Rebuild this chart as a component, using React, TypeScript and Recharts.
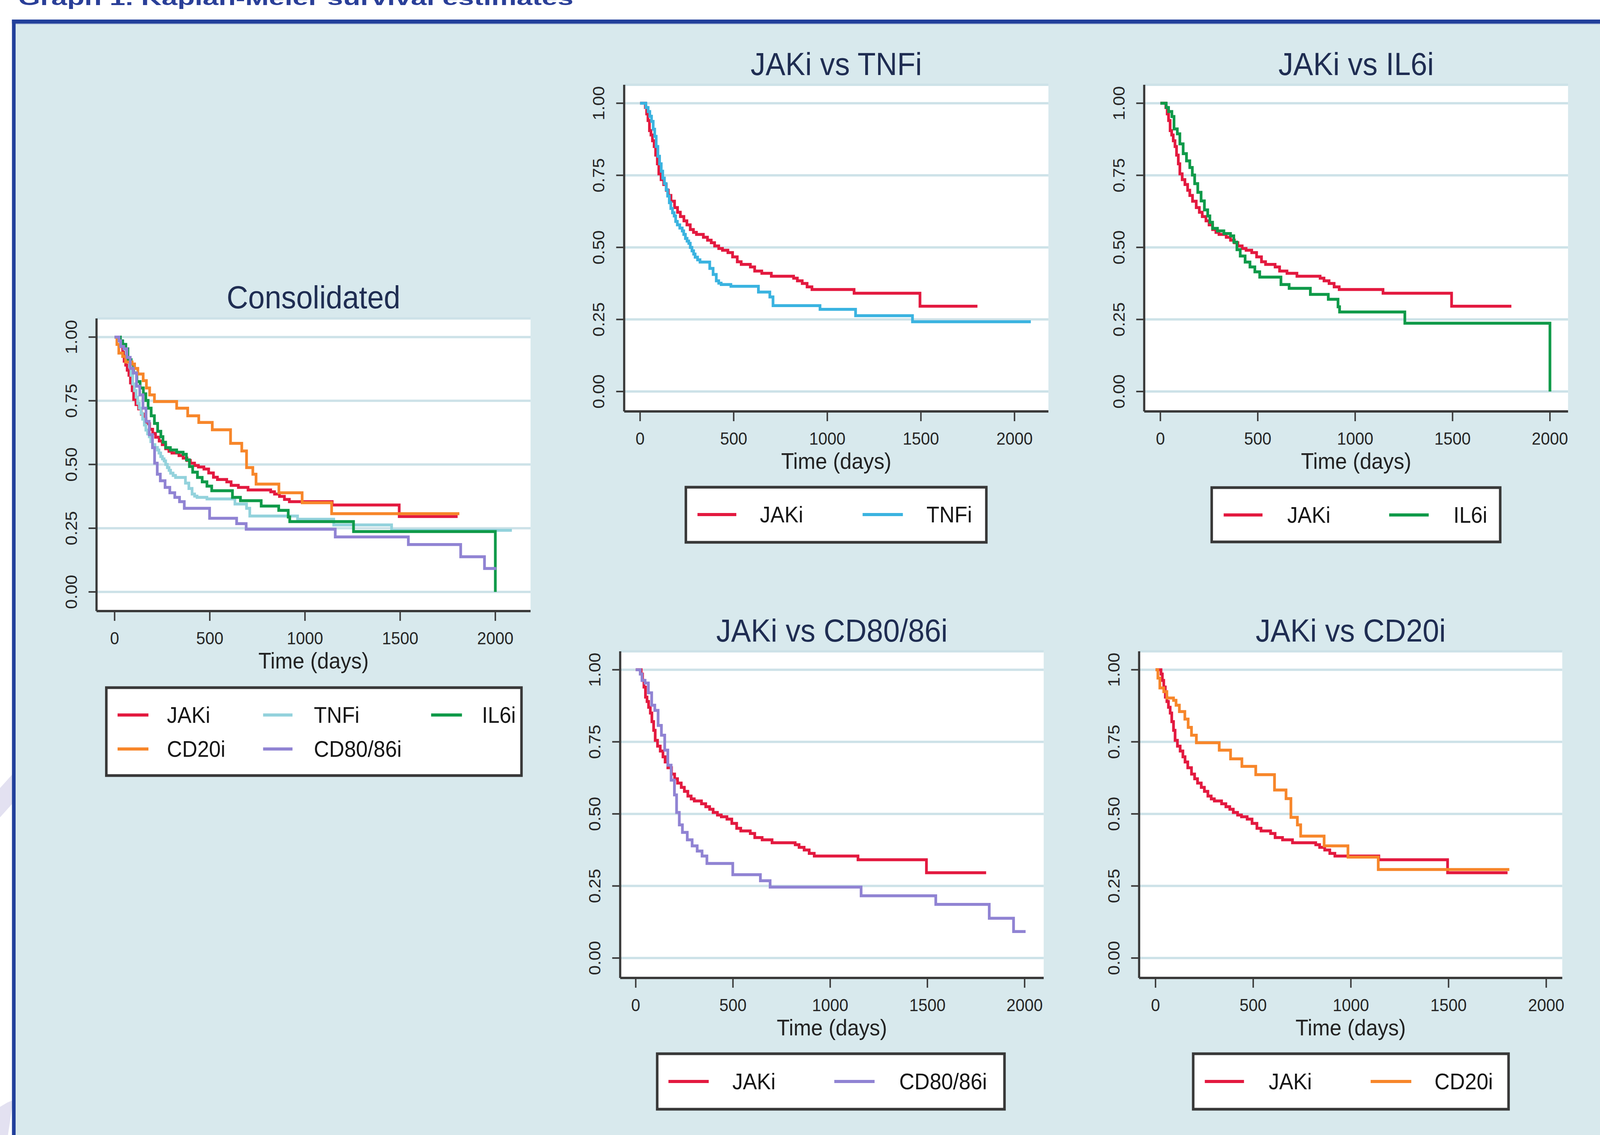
import React from 'react';
import { LineChart, Line, XAxis, YAxis, CartesianGrid } from 'recharts';

type Pt = [number, number];

// ---- Kaplan-Meier step values (time in days, survival probability) ----
const JAKI: Pt[] = [
  [0, 1], [28, 0.985], [35, 0.963], [42, 0.94], [50, 0.905], [58, 0.89], [66, 0.87], [75, 0.85],
  [83, 0.82], [92, 0.79], [100, 0.755], [112, 0.735], [126, 0.718], [140, 0.698], [151, 0.68],
  [165, 0.66], [184, 0.638], [200, 0.622], [215, 0.607], [234, 0.592], [250, 0.578], [268, 0.562],
  [285, 0.552], [301, 0.545], [338, 0.535], [360, 0.525], [380, 0.516], [398, 0.505], [420, 0.496],
  [440, 0.49], [469, 0.482], [494, 0.467], [519, 0.45], [540, 0.441], [589, 0.432], [612, 0.418],
  [650, 0.41], [701, 0.4], [820, 0.393], [840, 0.384], [866, 0.375], [892, 0.363], [918, 0.354],
  [1143, 0.341], [1495, 0.296], [1802, 0.296],
];

const TNFI: Pt[] = [
  [0, 1], [31, 0.985], [43, 0.971], [52, 0.955], [61, 0.937], [70, 0.91], [78, 0.885], [86, 0.85],
  [95, 0.816], [104, 0.79], [113, 0.764], [121, 0.74], [130, 0.721], [139, 0.7], [147, 0.678],
  [156, 0.655], [164, 0.635], [173, 0.62], [182, 0.609], [190, 0.59], [199, 0.578], [212, 0.567],
  [225, 0.557], [233, 0.545], [242, 0.531], [251, 0.522], [260, 0.514], [268, 0.5], [277, 0.488],
  [286, 0.477], [294, 0.466], [307, 0.457], [320, 0.449], [372, 0.427], [390, 0.406], [407, 0.384],
  [420, 0.376], [433, 0.371], [485, 0.365], [632, 0.345], [693, 0.328], [710, 0.298], [961, 0.285],
  [1151, 0.263], [1455, 0.242], [2087, 0.242],
];

const IL6I: Pt[] = [
  [0, 1], [30, 0.985], [42, 0.971], [59, 0.954], [70, 0.911], [87, 0.894], [100, 0.859], [117, 0.825],
  [134, 0.8], [151, 0.777], [164, 0.751], [176, 0.721], [192, 0.691], [209, 0.661], [226, 0.63],
  [243, 0.609], [254, 0.587], [268, 0.566], [293, 0.557], [326, 0.548], [360, 0.54], [377, 0.518],
  [393, 0.492], [410, 0.47], [435, 0.449], [460, 0.432], [485, 0.415], [510, 0.397], [619, 0.371],
  [661, 0.358], [770, 0.337], [862, 0.32], [912, 0.294], [920, 0.276], [1255, 0.237], [2000, 0],
];

const CD80: Pt[] = [
  [0, 1], [23, 0.985], [32, 0.963], [48, 0.954], [65, 0.92], [82, 0.877], [98, 0.859], [115, 0.807],
  [132, 0.773], [149, 0.721], [165, 0.669], [182, 0.617], [199, 0.566], [210, 0.505], [224, 0.462],
  [240, 0.436], [265, 0.41], [290, 0.389], [316, 0.371], [341, 0.354], [366, 0.328], [499, 0.289],
  [641, 0.268], [691, 0.246], [1159, 0.216], [1543, 0.186], [1818, 0.138], [1943, 0.092], [2005, 0.092],
];

const CD20: Pt[] = [
  [0, 1], [12, 0.971], [22, 0.937], [42, 0.924], [58, 0.902], [92, 0.894], [105, 0.877], [122, 0.855],
  [150, 0.829], [167, 0.8], [184, 0.773], [209, 0.747], [326, 0.721], [384, 0.691], [442, 0.665],
  [513, 0.636], [609, 0.583], [668, 0.553], [693, 0.488], [726, 0.462], [743, 0.423], [863, 0.389],
  [985, 0.35], [1140, 0.307], [1811, 0.307],
];

const X_TICKS = [0, 500, 1000, 1500, 2000];
const Y_TICKS = [0, 0.25, 0.5, 0.75, 1];
const X_TITLE = 'Time (days)';
const NAMES = { jak: 'JAKi', tnf: 'TNFi', il6: 'IL6i', cd20: 'CD20i', cd80: 'CD80/86i' };

// ---- styles ----
const PAGE_W = 4409;
const PAGE_H = 2905;
const BG = '#d8e9ed';
const FRAME = '#22409b';
const GRID = '#cde2e8';
const AXIS = '#3a3a3a';
const FONT = '"Liberation Sans", Arial, Helvetica, sans-serif';
const C = {
  jak: '#e3193f',
  tnfLight: '#93d2dc',
  tnf: '#3ab3e0',
  il6: '#0f9a49',
  cd20: '#f7862a',
  cd80: '#9083d3',
};

const YW = 150;
const MT = 10;
const MR = 10;
const XH = 110;
const LINE_W = 7.5;

type Series = { key: string; pts: Pt[]; color: string };
type Item = { name: string; color: string; sx: [number, number]; tx: number; ry: number };
type PanelCfg = {
  id: string;
  title: string;
  l: number; r: number; t: number; b: number;
  xd: [number, number];
  yd: [number, number];
  titleY: number;
  series: Series[];
  legend: { x: number; y: number; w: number; h: number; items: Item[] };
};

const PANELS: PanelCfg[] = [
  {
    id: 'cons', title: 'Consolidated', l: 266, r: 1462, t: 815, b: 1564,
    xd: [-95, 2185], yd: [-0.075, 1.073], titleY: 761,
    series: [
      { key: 'jak', pts: JAKI, color: C.jak },
      { key: 'tnf', pts: TNFI, color: C.tnfLight },
      { key: 'il6', pts: IL6I, color: C.il6 },
      { key: 'cd20', pts: CD20, color: C.cd20 },
      { key: 'cd80', pts: CD80, color: C.cd80 },
    ],
    legend: {
      x: 293, y: 1760, w: 1144, h: 225,
      items: [
        { name: NAMES.jak, color: C.jak, sx: [324, 409], tx: 460, ry: 1830 },
        { name: NAMES.tnf, color: C.tnfLight, sx: [725, 806], tx: 865, ry: 1830 },
        { name: NAMES.il6, color: C.il6, sx: [1188, 1273], tx: 1328, ry: 1830 },
        { name: NAMES.cd20, color: C.cd20, sx: [324, 409], tx: 460, ry: 1917 },
        { name: NAMES.cd80, color: C.cd80, sx: [725, 806], tx: 865, ry: 1917 },
      ],
    },
  },
  {
    id: 'tnf', title: 'JAKi vs TNFi', l: 1720, r: 2889, t: 217, b: 1053,
    xd: [-85, 2181], yd: [-0.069, 1.064], titleY: 164,
    series: [
      { key: 'jak', pts: JAKI, color: C.jak },
      { key: 'tnf', pts: TNFI, color: C.tnf },
    ],
    legend: {
      x: 1890, y: 1247, w: 828, h: 141,
      items: [
        { name: NAMES.jak, color: C.jak, sx: [1922, 2029], tx: 2094, ry: 1317 },
        { name: NAMES.tnf, color: C.tnf, sx: [2377, 2488], tx: 2553, ry: 1317 },
      ],
    },
  },
  {
    id: 'il6', title: 'JAKi vs IL6i', l: 3153, r: 4321, t: 217, b: 1053,
    xd: [-83, 2093], yd: [-0.069, 1.064], titleY: 164,
    series: [
      { key: 'jak', pts: JAKI, color: C.jak },
      { key: 'il6', pts: IL6I, color: C.il6 },
    ],
    legend: {
      x: 3339, y: 1248, w: 795, h: 139,
      items: [
        { name: NAMES.jak, color: C.jak, sx: [3372, 3479], tx: 3547, ry: 1318 },
        { name: NAMES.il6, color: C.il6, sx: [3828, 3937], tx: 4005, ry: 1318 },
      ],
    },
  },
  {
    id: 'cd80', title: 'JAKi vs CD80/86i', l: 1709, r: 2876, t: 1667, b: 2503,
    xd: [-80, 2098], yd: [-0.069, 1.064], titleY: 1614,
    series: [
      { key: 'jak', pts: JAKI, color: C.jak },
      { key: 'cd80', pts: CD80, color: C.cd80 },
    ],
    legend: {
      x: 1811, y: 2697, w: 957, h: 142,
      items: [
        { name: NAMES.jak, color: C.jak, sx: [1842, 1953], tx: 2018, ry: 2768 },
        { name: NAMES.cd80, color: C.cd80, sx: [2299, 2410], tx: 2478, ry: 2768 },
      ],
    },
  },
  {
    id: 'cd20', title: 'JAKi vs CD20i', l: 3139, r: 4305, t: 1667, b: 2503,
    xd: [-84, 2082], yd: [-0.069, 1.064], titleY: 1614,
    series: [
      { key: 'jak', pts: JAKI, color: C.jak },
      { key: 'cd20', pts: CD20, color: C.cd20 },
    ],
    legend: {
      x: 3288, y: 2697, w: 869, h: 142,
      items: [
        { name: NAMES.jak, color: C.jak, sx: [3320, 3428], tx: 3496, ry: 2768 },
        { name: NAMES.cd20, color: C.cd20, sx: [3777, 3889], tx: 3953, ry: 2768 },
      ],
    },
  },
];

const toRows = (pts: Pt[]) => pts.map(([t, s]) => ({ t, s }));

function Panel({ p }: { p: PanelCfg }) {
  const pw = p.r - p.l;
  const ph = p.b - p.t;
  const W = YW + pw + MR;
  const H = MT + ph + XH;
  const axisY = MT + ph;
  const xTick = (props: any) => (
    <text
      x={props.x}
      y={axisY + 69}
      textAnchor="middle"
      dominantBaseline="central"
      fontSize={45}
      fontFamily={FONT}
      fill="#262626"
    >
      {props.payload.value}
    </text>
  );
  const yTick = (props: any) => {
    const cx = YW - 70;
    const cy = props.y;
    return (
      <text
        x={cx}
        y={cy}
        transform={`rotate(-90 ${cx} ${cy})`}
        textAnchor="middle"
        dominantBaseline="central"
        fontSize={45}
        fontFamily={FONT}
        fill="#262626"
      >
        {Number(props.payload.value).toFixed(2)}
      </text>
    );
  };
  return (
    <div style={{ position: 'absolute', left: p.l - YW, top: p.t - MT, width: W, height: H }}>
      <LineChart width={W} height={H} margin={{ top: MT, right: MR, left: 0, bottom: 0 }}>
        <CartesianGrid
          vertical={false}
          horizontal
          stroke={GRID}
          strokeWidth={6}
          fill="#ffffff"
          fillOpacity={1}
        />
        <XAxis
          type="number"
          dataKey="t"
          domain={p.xd}
          ticks={X_TICKS}
          interval={0}
          allowDataOverflow
          height={XH}
          tickSize={25}
          axisLine={{ stroke: AXIS, strokeWidth: 6 }}
          tickLine={{ stroke: AXIS, strokeWidth: 4 }}
          tick={xTick}
        />
        <YAxis
          type="number"
          domain={p.yd}
          ticks={Y_TICKS}
          interval={0}
          allowDataOverflow
          width={YW}
          tickSize={22}
          axisLine={{ stroke: AXIS, strokeWidth: 6 }}
          tickLine={{ stroke: AXIS, strokeWidth: 4 }}
          tick={yTick}
        />
        {p.series.map((s) => (
          <Line
            key={s.key}
            data={toRows(s.pts)}
            dataKey="s"
            type="stepAfter"
            stroke={s.color}
            strokeWidth={LINE_W}
            dot={false}
            activeDot={false}
            isAnimationActive={false}
          />
        ))}
      </LineChart>
    </div>
  );
}

function Overlay() {
  return (
    <svg
      width={PAGE_W}
      height={PAGE_H}
      style={{ position: 'absolute', left: 0, top: 0, pointerEvents: 'none' }}
    >
      {PANELS.map((p) => (
        <g key={p.id} fontFamily={FONT}>
          <text
            x={(p.l + p.r) / 2}
            y={p.titleY}
            textAnchor="middle"
            dominantBaseline="central"
            fontSize={82}
            fill="#1f2d52"
          >
            {p.title}
          </text>
          <text
            x={(p.l + p.r) / 2}
            y={p.b + 127}
            textAnchor="middle"
            dominantBaseline="central"
            fontSize={58}
            fill="#222"
          >
            {X_TITLE}
          </text>
          <rect
            x={p.legend.x}
            y={p.legend.y}
            width={p.legend.w}
            height={p.legend.h}
            fill="#ffffff"
            stroke="#383838"
            strokeWidth={7}
          />
          {p.legend.items.map((it, i) => (
            <g key={i}>
              <line x1={it.sx[0]} x2={it.sx[1]} y1={it.ry} y2={it.ry} stroke={it.color} strokeWidth={8} />
              <text x={it.tx} y={it.ry} dominantBaseline="central" fontSize={58} fill="#151515">
                {it.name}
              </text>
            </g>
          ))}
        </g>
      ))}
    </svg>
  );
}

function Backdrop() {
  return (
    <svg width={PAGE_W} height={PAGE_H} style={{ position: 'absolute', left: 0, top: 0 }}>
      <rect x={0} y={0} width={PAGE_W} height={PAGE_H} fill="#ffffff" />
      <text
        x={50}
        y={13}
        fontFamily={FONT}
        fontWeight="bold"
        fontSize={50}
        fill="#2a3f98"
        textLength={1530}
        lengthAdjust="spacingAndGlyphs"
      >
        Graph 1. Kaplan-Meier survival estimates
      </text>
      <polygon points="0,2017 33,1983 33,2058 0,2092" fill="#e3e1f1" />
      <polygon points="0,2833 20,2822 33,2817 33,2835 22,2905 0,2905" fill="#e3e1f1" />
      <rect x={43} y={60} width={PAGE_W - 43} height={PAGE_H - 60} fill={BG} />
      <rect x={33} y={50} width={PAGE_W - 33} height={10} fill={FRAME} />
      <rect x={33} y={50} width={10} height={PAGE_H - 50} fill={FRAME} />
      <rect x={43} y={60} width={PAGE_W - 43} height={2} fill="#8fa3cf" />
    </svg>
  );
}

function useViewport() {
  const get = () => ({
    w: typeof window !== 'undefined' && window.innerWidth ? window.innerWidth : PAGE_W,
    h: typeof window !== 'undefined' && window.innerHeight ? window.innerHeight : PAGE_H,
  });
  const [vp, setVp] = React.useState(get);
  React.useEffect(() => {
    const on = () => setVp(get());
    window.addEventListener('resize', on);
    on();
    return () => window.removeEventListener('resize', on);
  }, []);
  return vp;
}

export default function App() {
  const vp = useViewport();
  const sx = Math.min(1, vp.w / PAGE_W);
  const sy = Math.min(1, vp.h / PAGE_H);
  return (
    <div
      style={{
        position: 'fixed',
        left: 0,
        top: 0,
        right: 0,
        bottom: 0,
        overflow: 'hidden',
        background: '#ffffff',
      }}
    >
      <div
        style={{
          position: 'absolute',
          left: 0,
          top: 0,
          width: PAGE_W,
          height: PAGE_H,
          fontFamily: FONT,
          transform: `scale(${sx}, ${sy})`,
          transformOrigin: '0 0',
        }}
      >
        <Backdrop />
        {PANELS.map((p) => (
          <Panel key={p.id} p={p} />
        ))}
        <Overlay />
      </div>
    </div>
  );
}
